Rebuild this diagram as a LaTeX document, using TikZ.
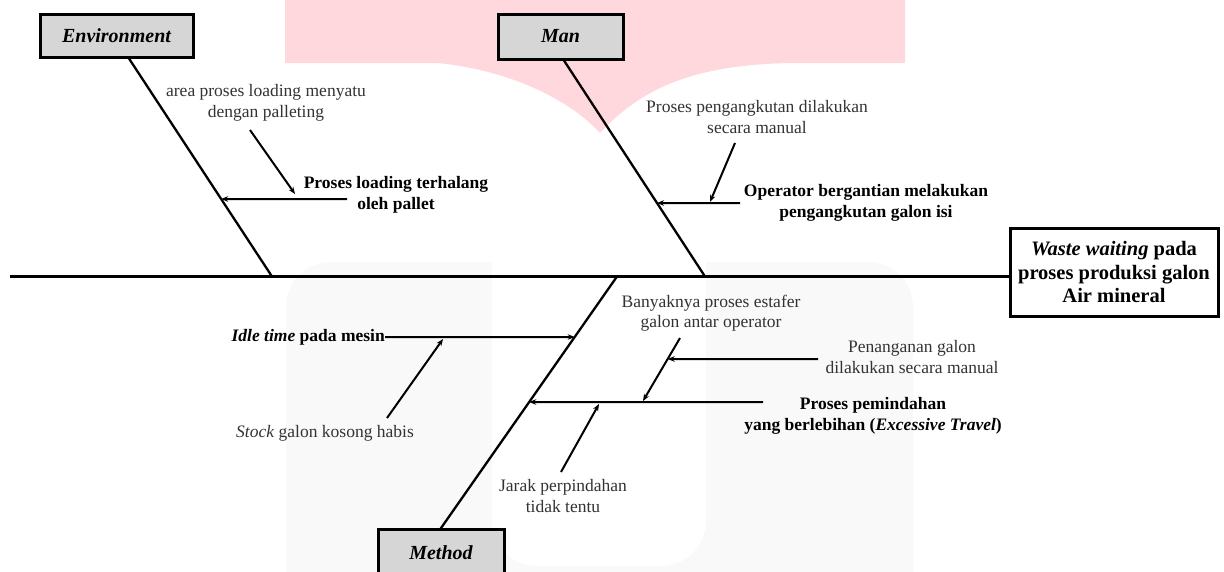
\documentclass[tikz,border=0pt]{standalone}
\usepackage{fontspec}
\setmainfont{Liberation Serif}
\usetikzlibrary{arrows.meta,calc}
\definecolor{wmpink}{HTML}{FFD8DD}
\definecolor{wmgray}{HTML}{F9F9F9}
\definecolor{boxgray}{HTML}{D6D6D6}
\definecolor{txtgray}{HTML}{333333}
\tikzset{
  bone/.style={line width=2.3pt},
  causearrow/.style={line width=2pt,-{Stealth[length=7pt,width=5.5pt]}},
  catbox/.style={draw,line width=3pt,fill=boxgray,inner sep=0pt,
    font=\fontsize{20}{22}\selectfont\bfseries\itshape},
  effectbox/.style={draw,line width=3pt,fill=white,inner sep=0pt,align=center,
    font=\fontsize{20.5}{23.5}\selectfont\bfseries},
  note/.style={align=center,inner sep=0pt,text=txtgray,font=\fontsize{17.5}{20.5}\selectfont},
  cause/.style={align=center,inner sep=0pt,font=\fontsize{17.5}{20.5}\selectfont\bfseries}
}
\begin{document}
\begin{tikzpicture}[x=1pt,y=-1pt]
\useasboundingbox (0,0) rectangle (1224,571);
% watermark
\fill[wmpink] (285,0) -- (905,0) -- (905,63) -- (790,63)
  .. controls (690,65) and (640,90) .. (600,133)
  .. controls (570,100) and (510,70) .. (437,63) -- (285,63) -- cycle;
\fill[wmgray, rounded corners=45pt] (286,262) rectangle (913,620);
\fill[white, rounded corners=45pt] (492,230) rectangle (706,566);
\fill[white] (492,230) rectangle (706,300);

% boxes
\node[catbox, minimum width=153pt, minimum height=43pt] (env) at (116.5,35.5) {Environment};
\node[catbox, minimum width=125pt, minimum height=45pt] (man) at (560.5,36.5) {Man};
\node[catbox, minimum width=126pt, minimum height=47pt] (met) at (441,553) {Method};
\node[effectbox, minimum width=208pt, minimum height=88pt] (eff) at (1114,272)
  {\textit{Waste waiting} pada\\proses produksi galon\\Air mineral};

% spine
\coordinate (tail) at (10,276.5);
\draw[bone] (tail) -- (eff.west |- tail);

% bones
\coordinate (envtop) at (128,57);
\coordinate (envbot) at (272,276.5);
\coordinate (mantop) at (563,59);
\coordinate (manbot) at (705,276.5);
\coordinate (mettop) at (617,276.5);
\coordinate (metbot) at (440,529.5);
\draw[bone] (envtop) -- (envbot);
\draw[bone] (mantop) -- (manbot);
\draw[bone] (mettop) -- (metbot);

% Environment causes
\node[note] (n1) at (266,103) {area proses loading menyatu\\dengan palleting};
\node[cause] (c1) at (396,195) {Proses loading terhalang\\oleh pallet};
\coordinate (c1s) at (347,199);
\coordinate (c1e) at ($(envtop)!{(199-57)/(276.5-57)}!(envbot)$);
\draw[causearrow] (c1s) -- (c1e);
\coordinate (n1s) at (250,130);
\coordinate (n1e) at (295,194);
\draw[causearrow] (n1s) -- (n1e);

% Man causes
\node[note] (n2) at (757,117) {Proses pengangkutan dilakukan\\secara manual};
\node[cause] (c2) at (866,203) {Operator bergantian melakukan\\pengangkutan galon isi};
\coordinate (c2s) at (740,203);
\coordinate (c2e) at ($(mantop)!{(203-59)/(276.5-59)}!(manbot)$);
\draw[causearrow] (c2s) -- (c2e);
\coordinate (n2s) at (735,143);
\coordinate (n2e) at (710,202);
\draw[causearrow] (n2s) -- (n2e);

% Method causes
\node[cause, anchor=east] (c3) at (385,337) {\textit{Idle time} pada mesin};
\coordinate (c3e) at ($(mettop)!{(337-276.5)/(529.5-276.5)}!(metbot)$);
\draw[causearrow] (c3.east) -- (c3e);
\node[note] (n3) at (325,433) {\textit{Stock} galon kosong habis};
\coordinate (n3s) at (387,418);
\coordinate (n3e) at (443,339);
\draw[causearrow] (n3s) -- (n3e);

\node[cause] (c4) at (873,416) {Proses pemindahan\\yang berlebihan (\textit{Excessive Travel})};
\coordinate (c4s) at (763,402);
\coordinate (c4e) at ($(mettop)!{(402-276.5)/(529.5-276.5)}!(metbot)$);
\draw[causearrow] (c4s) -- (c4e);

\node[note] (n4) at (711,313) {Banyaknya proses estafer\\galon antar operator};
\coordinate (n4s) at (680,338);
\coordinate (n4e) at (643,401);
\draw[causearrow] (n4s) -- (n4e);

\node[note] (n5) at (912,357) {Penanganan galon\\dilakukan secara manual};
\coordinate (n5s) at (818,359);
\coordinate (n5e) at ($(n4s)!{(359-338)/(401-338)}!(n4e)$);
\draw[causearrow] (n5s) -- (n5e);

\node[note] (n6) at (563,496) {Jarak perpindahan\\tidak tentu};
\coordinate (n6s) at (561,472);
\coordinate (n6e) at (599,404);
\draw[causearrow] (n6s) -- (n6e);
\end{tikzpicture}
\end{document}
